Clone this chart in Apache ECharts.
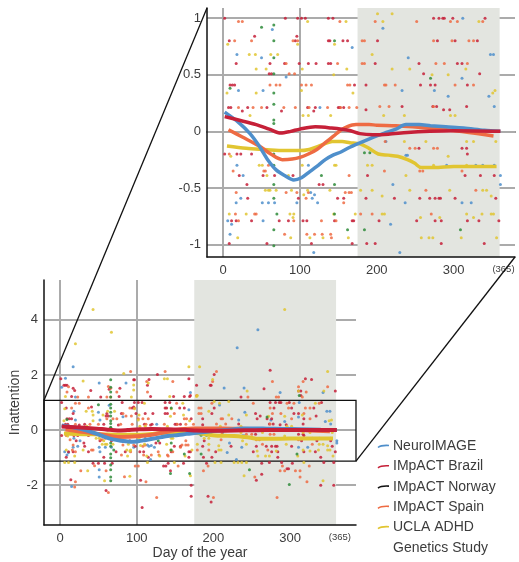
<!DOCTYPE html>
<html>
<head>
<meta charset="utf-8">
<script src="https://cdn.jsdelivr.net/npm/echarts@6/dist/echarts.min.js"></script>
<style>
  html, body { margin: 0; padding: 0; background: #fff; }
  #chart { width: 519px; height: 562px; }
</style>
</head>
<body>
<div id="chart"></div>
<script>
// ---- data ----
var xTicks = [0, 100, 200, 300];
var xLabels = [0, 100, 200, 300, 365];
var mainYTicks = [-2, 0, 2, 4];
var insetYTicks = [-1, -0.5, 0, 0.5, 1];
var shadeDays = [175, 360];
var legendNames = ["NeuroIMAGE", "IMpACT Brazil", "IMpACT Norway", "IMpACT Spain", "UCLA ADHD\nGenetics Study"];

var neuroLine = [[2,0.17],[20,0.08],[35,-0.02],[47,-0.13],[58,-0.25],[69,-0.34],[80,-0.39],[92,-0.43],[102,-0.41],[112,-0.36],[122,-0.31],[133,-0.25],[143,-0.21],[154,-0.18],[165,-0.14],[175,-0.11],[189,-0.07],[200,-0.04],[210,-0.015],[225,0.02],[238,0.06],[255,0.06],[270,0.05],[290,0.04],[313,0.03],[340,0.01],[361,0]];
var brazilLine = [[2,0.13],[20,0.1],[43,0.06],[60,0.02],[75,-0.015],[88,0],[100,0.02],[120,0.04],[140,0.03],[163,0.01],[178,-0.02],[195,-0.03],[215,-0.025],[240,-0.01],[269,0],[300,0.005],[361,0]];
var spainLine = [[7,0.015],[25,-0.05],[47,-0.13],[62,-0.2],[77,-0.25],[90,-0.245],[100,-0.23],[111,-0.2],[122,-0.16],[133,-0.1],[144,-0.04],[153,0.01],[161,0.04],[173,0.06],[190,0.06],[200,0.055],[225,0.05],[247,0.04],[280,0.02],[320,-0.01],[352,-0.04]];
var uclaLine = [[5,-0.13],[30,-0.15],[54,-0.16],[80,-0.17],[100,-0.17],[112,-0.16],[121,-0.14],[132,-0.11],[142,-0.09],[155,-0.09],[165,-0.1],[178,-0.11],[190,-0.15],[202,-0.2],[215,-0.21],[227,-0.22],[240,-0.25],[249,-0.28],[258,-0.32],[275,-0.32],[300,-0.31],[356,-0.31]];

var neuroPts = [[64,0.9],[168,0.74],[18,0.68],[50,0.65],[82,0.48],[20,0.36],[52,0.36],[126,0.21],
  [312,1.0],[208,0.91],[348,0.68],[352,0.68],[241,0.65],[311,0.47],[233,0.36],[275,0.36],[293,0.31],[346,0.31],[353,0.22],
  [18,-0.3],[111,-0.3],[26,-0.39],[114,-0.54],[119,-0.56],[23,-0.59],[116,-0.59],[17,-0.63],[51,-0.63],[59,-0.63],[67,-0.63],[96,-0.63],[123,-0.63],[6,-0.79],[52,-0.79],[11,-0.82],[9,-0.91],[118,-1.07],
  [212,-0.09],[238,-0.21],[240,-0.21],[291,-0.3],[329,-0.3],[338,-0.3],[353,-0.3],[361,-0.39],[221,-0.47],[361,-0.47],[237,-0.63],[311,-0.63],[323,-0.63],[218,-0.82],[230,-1.07],
  [17,2.3],[7,1.88],[51,1.71],[86,1.71],[2,1.55],[170,1.36],[20,1.2],[258,3.64],[231,2.99],[214,1.53],[240,1.53],[343,1.36],[287,1.36],[51,-1.44],[51,-1.71],[15,-2.05]];

var brazilPts = [[2,1.0],[81,1.0],[97,1.0],[102,1.0],[107,1.0],[137,1.0],[143,1.0],[41,0.84],[96,0.84],[8,0.8],[94,0.8],[137,0.8],[139,0.8],[156,0.8],[162,0.8],[17,0.6],[61,0.6],[80,0.6],[99,0.6],[111,0.6],[121,0.6],[137,0.6],[140,0.6],[60,0.51],[63,0.51],[9,0.41],[12,0.41],[15,0.41],[171,0.41],[7,0.21],[10,0.21],[32,0.21],[57,0.21],[110,0.21],[120,0.21],[150,0.21],[152,0.21],[157,0.21],[25,0.18],[76,0.18],[118,0.18],
  [274,1.0],[281,1.0],[286,1.0],[288,1.0],[299,1.0],[341,1.0],[201,0.8],[279,0.8],[302,0.8],[331,0.8],[198,0.6],[255,0.6],[305,0.6],[311,0.6],[261,0.51],[334,0.51],[186,0.41],[257,0.41],[270,0.41],[276,0.41],[318,0.41],[233,0.22],[273,0.22],[278,0.22],[317,0.22],[186,0.19],[287,0.19],[295,0.19],
  [2,-0.2],[18,-0.2],[23,-0.2],[37,-0.2],[21,-0.39],[52,-0.39],[67,-0.39],[91,-0.39],[31,-0.47],[125,-0.47],[130,-0.47],[32,-0.59],[98,-0.59],[149,-0.59],[157,-0.59],[11,-0.79],[17,-0.79],[37,-0.79],[73,-0.79],[85,-0.79],[104,-0.79],[109,-0.79],[145,-0.79],[168,-0.79],[170,-0.79],[8,-0.99],[57,-0.99],[115,-0.99],[168,-0.99],
  [255,-0.15],[311,-0.15],[317,-0.15],[318,-0.2],[188,-0.39],[315,-0.39],[335,-0.39],[353,-0.39],[186,-0.59],[223,-0.59],[256,-0.59],[269,-0.59],[276,-0.59],[281,-0.59],[283,-0.59],[302,-0.59],[355,-0.59],[203,-0.79],[252,-0.79],[276,-0.79],[284,-0.79],[318,-0.79],[333,-0.79],[359,-0.79],[187,-0.99],[198,-0.99],[284,-0.99],[340,-0.99],
  [127,2.02],[1,1.86],[96,1.83],[97,1.83],[116,1.84],[168,1.86],[178,1.63],[5,1.63],[7,1.63],[9,1.63],[17,1.52],[19,1.44],[40,1.44],[64,1.48],[78,1.52],[114,1.63],[15,1.22],[53,1.2],[77,1.22],[118,1.22],[148,1.22],[162,1.22],[169,1.22],[201,2.02],[274,2.17],[320,1.86],[328,1.84],[196,1.63],[197,1.63],[266,1.5],[311,1.42],[314,1.42],[359,1.42],[170,1.25],[236,1.2],[314,1.25],
  [43,-1.21],[50,-1.21],[58,-1.21],[68,-1.21],[141,-1.21],[161,-1.21],[191,-1.21],[263,-1.21],[273,-1.18],[289,-1.18],[303,-1.21],[344,-1.18],[357,-1.18],[135,-1.31],[138,-1.31],[144,-1.48],[296,-1.41],[298,-1.41],[263,-1.61],[256,-1.82],[105,-1.82],[14,-1.81],[171,-2.01],[340,-2.01],[357,-2.01],[60,-2.2],[171,-2.41],[193,-2.41],[197,-2.61],[107,-2.81]];

var norwayPts = [[50,0.92],[66,0.94],[66,0.8],[145,0.8],[66,0.65],[66,0.51],[9,0.38],[66,0.34],[66,0.24],[66,0.1],[66,0.07],[66,-0.2],[66,-0.3],[66,-0.47],[145,-0.47],[66,-0.59],[70,-0.73],[145,-0.73],[66,-0.87],[162,-0.87],[66,-1.01],[128,-0.39],[270,0.47],[184,-0.19],[191,-0.19],[184,-0.87],[309,-0.87],
  [66,1.83],[66,1.55],[66,1.38],[66,1.2],[66,-1.27],[66,-1.44],[66,-1.71],[66,-1.84],[144,-1.58],[247,-1.44],[169,-1.58],[299,-1.98],[312,1.25]];

var spainPts = [[20,0.97],[25,0.97],[152,0.97],[15,0.8],[37,0.8],[91,0.8],[97,0.8],[82,0.6],[149,0.6],[86,0.51],[93,0.51],[61,0.41],[69,0.41],[74,0.41],[102,0.41],[108,0.41],[115,0.41],[162,0.41],[165,0.41],[20,0.21],[39,0.21],[50,0.21],[79,0.21],[94,0.21],[112,0.21],[136,0.21],[153,0.21],[164,0.21],[174,0.21],
  [198,0.97],[252,0.97],[296,0.97],[305,0.97],[338,0.97],[181,0.8],[184,0.8],[274,0.8],[298,0.8],[320,0.8],[326,0.8],[181,0.6],[184,0.6],[277,0.6],[288,0.6],[318,0.6],[210,0.41],[212,0.41],[224,0.41],[302,0.41],[326,0.41],[204,0.22],[216,0.22],[274,0.22],
  [8,-0.2],[13,-0.35],[53,-0.35],[55,-0.35],[59,-0.3],[164,-0.39],[17,-0.54],[82,-0.54],[96,-0.54],[111,-0.54],[159,-0.54],[164,-0.54],[167,-0.54],[108,-0.59],[157,-0.63],[16,-0.73],[41,-0.73],[43,-0.73],[20,-0.79],[92,-0.79],[128,-0.79],[147,-0.79],[80,-0.91],[109,-0.91],[119,-0.91],[129,-0.91],[140,-0.91],[141,-0.94],
  [211,-0.09],[243,-0.15],[250,-0.15],[274,-0.15],[279,-0.15],[210,-0.35],[256,-0.35],[260,-0.35],[311,-0.35],[264,-0.52],[329,-0.52],[179,-0.73],[194,-0.73],[271,-0.73],
  [92,2.13],[137,2.13],[147,1.76],[113,1.76],[11,1.57],[9,1.38],[63,1.58],[66,1.52],[74,1.38],[114,1.38],[23,1.2],[37,1.2],[61,1.2],[66,1.2],[204,2.13],[277,1.76],[317,1.76],[199,1.76],[311,1.57],[321,1.38],[349,1.57],[178,1.25],[245,1.2],[282,1.2],[285,1.2],[316,1.2],
  [45,-1.3],[98,-1.31],[102,-1.31],[154,-1.31],[193,-1.31],[325,-1.31],[290,-1.31],[27,-1.48],[60,-1.48],[187,-1.48],[287,-1.48],[293,-1.48],[307,-1.48],[313,-1.48],[254,-1.71],[84,-1.7],[112,-1.88],[20,-1.88],[313,-1.71],[322,-1.88],[19,-2.07],[63,-2.27],[126,-2.45],[200,-2.45],[283,-2.45]];

var uclaPts = [[110,0.97],[160,0.97],[6,0.77],[97,0.77],[145,0.77],[34,0.68],[42,0.68],[62,0.68],[71,0.68],[43,0.55],[56,0.55],[103,0.55],[161,0.55],[144,0.5],[43,0.34],[5,0.34],[102,0.36],[169,0.34],[35,0.14],[104,0.14],[111,0.14],[140,0.14],
  [201,1.04],[220,1.04],[208,0.97],[333,0.97],[194,0.68],[220,0.55],[243,0.55],[316,0.55],[272,0.5],[293,0.5],[351,0.34],[354,0.36],[209,0.14],[236,0.14],[296,0.14],[302,0.14],
  [10,-0.22],[47,-0.3],[51,-0.3],[103,-0.3],[145,-0.3],[147,-0.3],[57,-0.39],[85,-0.39],[55,-0.52],[59,-0.52],[61,-0.52],[69,-0.52],[89,-0.52],[110,-0.52],[139,-0.52],[105,-0.56],[8,-0.73],[30,-0.73],[87,-0.73],[92,-0.73],[144,-0.73],[172,-0.73],[91,-0.76],[19,-0.94],[88,-0.94],[113,-0.94],[130,-0.94],[163,-0.94],
  [236,-0.09],[264,-0.09],[317,-0.09],[326,-0.09],[355,-0.09],[293,-0.22],[188,-0.3],[194,-0.3],[274,-0.3],[317,-0.3],[238,-0.39],[179,-0.52],[194,-0.52],[243,-0.52],[295,-0.52],[338,-0.52],[343,-0.52],[207,-0.57],[349,-0.57],[207,-0.73],[210,-0.73],[317,-0.73],[337,-0.73],[349,-0.73],[352,-0.73],[257,-0.76],[282,-0.76],[326,-0.76],[258,-0.94],[268,-0.94],[273,-0.94],[310,-0.94],[356,-0.94],
  [43,4.38],[67,3.55],[20,3.13],[83,2.05],[168,2.3],[136,1.86],[140,1.86],[30,1.78],[115,1.71],[96,1.64],[96,1.45],[7,1.22],[93,1.2],[143,1.22],[178,1.22],[293,4.38],[182,2.3],[349,2.13],[199,1.84],[244,1.42],[311,1.42],[344,1.42],[179,1.25],
  [6,-1.18],[11,-1.18],[19,-1.18],[114,-1.18],[149,-1.18],[202,-1.18],[210,-1.18],[227,-1.18],[232,-1.18],[237,-1.18],[243,-1.18],[318,-1.18],[36,-1.48],[91,-1.68],[58,-1.84],[240,-1.66],[343,-1.84],[170,-1.66]];

// zoom window shown in the inset
var mainX = [-21, 386];
var mainY = [-3.45, 5.45];
var insetX = [-21, 380];
var insetY = [-1.11, 1.09];
var zoomBox = [1.08, -1.13];

var colors = {
  neuro: "#4f8fcb",
  brazil: "#c62038",
  norway: "#111111",
  norwayDot: "#2e8b3a",
  spain: "#ee6b43",
  ucla: "#e1c531"
};
var legendColors = [colors.neuro, colors.brazil, colors.norway, colors.spain, colors.ucla];
var font = "'Liberation Sans', Arial, sans-serif";
var textColor = "#3c3c3c";

var myChart = echarts.init(document.getElementById("chart"), null, { renderer: "canvas" });

function xAxisFor(gridIndex, range, nameText) {
  return {
    type: "value",
    gridIndex: gridIndex,
    min: range[0],
    max: range[1],
    z: 1,
    name: nameText,
    nameLocation: "middle",
    nameGap: 21,
    nameMoveOverlap: false,
    nameTextStyle: { fontFamily: font, fontSize: 14, color: textColor },
    axisLine: { show: true, onZero: false, lineStyle: { color: "#111", width: 1.5 } },
    axisTick: { show: false, customValues: xTicks },
    splitLine: { show: true, lineStyle: { color: "#ababab", width: 2 } },
    axisLabel: {
      customValues: xLabels,
      margin: 7,
      fontFamily: font,
      fontSize: 13,
      color: textColor,
      formatter: function (v) {
        return v === 365 ? "{s|(365)}" : String(v);
      },
      rich: { s: { fontSize: 9.5, fontFamily: font, color: textColor } }
    }
  };
}

function yAxisFor(gridIndex, range, ticks, nameText) {
  return {
    type: "value",
    gridIndex: gridIndex,
    min: range[0],
    max: range[1],
    z: 1,
    name: nameText,
    nameLocation: "middle",
    nameGap: 22,
    nameMoveOverlap: false,
    nameTextStyle: { fontFamily: font, fontSize: 14, color: textColor },
    axisLine: { show: true, onZero: false, lineStyle: { color: "#111", width: 1.5 } },
    axisTick: { show: false, customValues: ticks },
    splitLine: { show: true, lineStyle: { color: "#ababab", width: 2 } },
    axisLabel: {
      customValues: ticks,
      margin: 6,
      fontFamily: font,
      fontSize: 13,
      color: textColor
    }
  };
}

function dots(name, data, color, xi, yi) {
  return {
    name: name,
    type: "scatter",
    xAxisIndex: xi,
    yAxisIndex: yi,
    data: data,
    symbol: "circle",
    symbolSize: 3,
    clip: true,
    silent: true,
    z: 2,
    itemStyle: { color: color, opacity: 0.85 }
  };
}

function trend(name, data, color, xi, yi, width) {
  return {
    name: name,
    type: "line",
    xAxisIndex: xi,
    yAxisIndex: yi,
    data: data,
    smooth: 0.3,
    showSymbol: false,
    clip: true,
    silent: true,
    z: 4,
    lineStyle: { color: color, width: width },
    itemStyle: { color: color }
  };
}

function shade(xi, yi) {
  return {
    name: "shade" + xi,
    type: "line",
    xAxisIndex: xi,
    yAxisIndex: yi,
    data: [],
    silent: true,
    z: -1,
    markArea: {
      silent: true,
      itemStyle: { color: "#e3e5e0" },
      data: [[{ xAxis: shadeDays[0] }, { xAxis: shadeDays[1] }]]
    }
  };
}

var series = [shade(0, 0), shade(1, 1)];
[[0, 0], [1, 1]].forEach(function (ax) {
  var xi = ax[0], yi = ax[1];
  series.push(dots("neuroPts", neuroPts, colors.neuro, xi, yi));
  series.push(dots("brazilPts", brazilPts, colors.brazil, xi, yi));
  series.push(dots("spainPts", spainPts, colors.spain, xi, yi));
  series.push(dots("uclaPts", uclaPts, colors.ucla, xi, yi));
  series.push(dots("norwayPts", norwayPts, colors.norwayDot, xi, yi));
  var w = xi === 0 ? 4 : 3.5;
  series.push(trend("UCLA ADHD Genetics Study", uclaLine, colors.ucla, xi, yi, w));
  series.push(trend("IMpACT Spain", spainLine, colors.spain, xi, yi, w));
  series.push(trend("NeuroIMAGE", neuroLine, colors.neuro, xi, yi, w));
  series.push(trend("IMpACT Brazil", brazilLine, colors.brazil, xi, yi, w));
});

// box showing the zoomed window on the main chart
series.push({
  name: "zoomBox",
  type: "line",
  xAxisIndex: 0,
  yAxisIndex: 0,
  data: [],
  silent: true,
  z: 6,
  markArea: {
    silent: true,
    itemStyle: { color: "rgba(0,0,0,0)", borderColor: "#111", borderWidth: 1.3 },
    data: [[{ coord: [mainX[0], zoomBox[0]] }, { coord: [mainX[1], zoomBox[1]] }]]
  }
});

var option = {
  animation: false,
  backgroundColor: "#fff",
  textStyle: { fontFamily: font },
  grid: [
    { left: 44, top: 280, width: 312, height: 245, outerBoundsMode: "none", containLabel: false },
    { left: 207, top: 8, width: 308, height: 249, outerBoundsMode: "none", containLabel: false }
  ],
  xAxis: [
    xAxisFor(0, mainX, "Day of the year"),
    xAxisFor(1, insetX, ""),
    {
      // top border of the inset
      type: "value", gridIndex: 1, position: "top", min: insetX[0], max: insetX[1],
      axisLine: { show: true, lineStyle: { color: "#111", width: 1.5 } },
      axisTick: { show: false }, axisLabel: { show: false }, splitLine: { show: false }
    }
  ],
  yAxis: [
    yAxisFor(0, mainY, mainYTicks, "Inattention"),
    yAxisFor(1, insetY, insetYTicks, "")
  ],
  series: series
};
myChart.setOption(option);

// legend (small curved strokes + names), and lines joining the zoom box to the inset
var graphics = [];
legendNames.forEach(function (name, i) {
  var cy = 446 + i * 20.3;
  graphics.push({
    type: "bezierCurve", silent: true, z: 10,
    shape: { x1: 378, y1: cy + 1.5, x2: 389, y2: cy - 0.5, cpx1: 381, cpy1: cy - 1 },
    style: { stroke: legendColors[i], lineWidth: 1.6, fill: null }
  });
  graphics.push({
    type: "text", silent: true, z: 10, x: 393, y: cy - 10,
    style: { text: name, fill: textColor, font: "14px " + font, lineHeight: 20.3, textVerticalAlign: "top" }
  });
});
var a1 = myChart.convertToPixel({ gridIndex: 0 }, [mainX[0], zoomBox[0]]);
var b1 = myChart.convertToPixel({ gridIndex: 1 }, [insetX[0], insetY[1]]);
var a2 = myChart.convertToPixel({ gridIndex: 0 }, [mainX[1], zoomBox[1]]);
var b2 = myChart.convertToPixel({ gridIndex: 1 }, [insetX[1], insetY[0]]);
graphics.push({ type: "line", z: 10, silent: true, shape: { x1: a1[0], y1: a1[1], x2: b1[0], y2: b1[1] }, style: { stroke: "#111", lineWidth: 1.3 } });
graphics.push({ type: "line", z: 10, silent: true, shape: { x1: a2[0], y1: a2[1], x2: b2[0], y2: b2[1] }, style: { stroke: "#111", lineWidth: 1.3 } });
myChart.setOption({ graphic: graphics });
</script>
</body>
</html>
